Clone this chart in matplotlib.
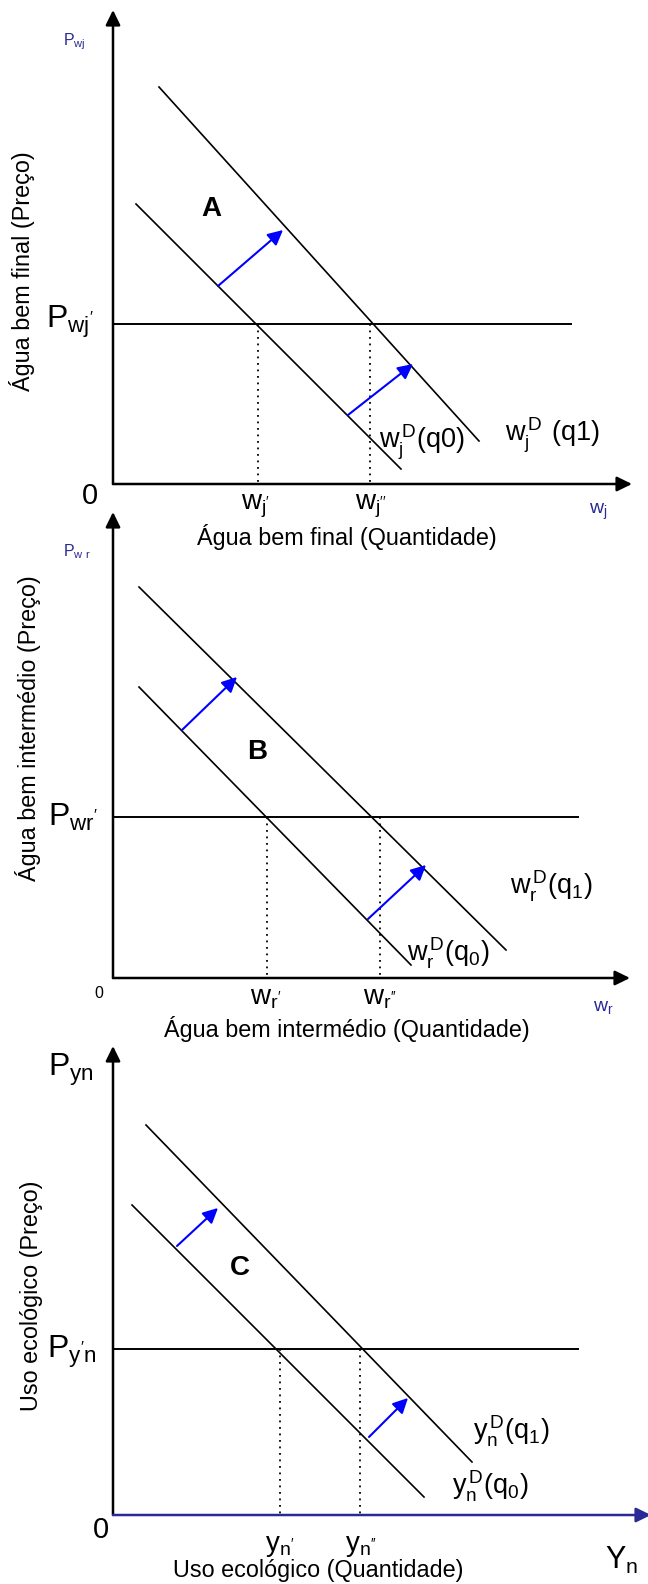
import matplotlib
matplotlib.use("Agg")
import matplotlib.pyplot as plt

plt.rcParams["font.family"] = ["Liberation Sans", "DejaVu Sans"]
plt.rcParams["mathtext.default"] = "regular"

NAVY = "#2a2a96"
BLUE = "#0000ff"

# painéis A, B, C: origem (px) e, relativos à origem, (quantidade, preço)
origens = [(113, 484), (113, 978), (113, 1515)]
topo_eixo_y = [474, 466, 469]
fim_eixo_x = [519, 517, 538]

# curvas de procura: (q_ini, p_ini, q_fim, p_fim)
procura_q1 = [(46, 397, 366, 43), (26, 391, 393, 28), (33, 390, 359, 53)]
procura_q0 = [(23, 280, 288, 15), (26, 291, 298, 13), (19, 310, 311, 18)]

# nível de preço e comprimento da recta horizontal
preco = [160, 161, 166]
preco_comp = [458, 465, 465]

# quantidades de equilíbrio (linhas pontilhadas)
quant_1 = [145, 154, 167]
quant_2 = [257, 267, 247]

# deslocações da procura (setas azuis)
seta_1 = [(105, 198, 170, 254), (69, 248, 124, 301), (64, 269, 105, 307)]
seta_2 = [(235, 69, 300, 120), (255, 59, 313, 113), (256, 78, 295, 117)]

fig = plt.figure(figsize=(6.48, 15.84), dpi=100)
ax = fig.add_axes([0, 0, 1, 1])
ax.set_xlim(0, 648)
ax.set_ylim(1584, 0)
ax.axis("off")


def pt(i, q, p):
    ox, oy = origens[i]
    return ox + q, oy - p


for i in range(3):
    ox, oy = origens[i]
    cor_x = NAVY if i == 2 else "black"
    ax.annotate("", xy=pt(i, 0, topo_eixo_y[i]), xytext=(ox, oy),
                arrowprops=dict(arrowstyle="-|>,head_length=0.45,head_width=0.22",
                                color="black", lw=1.8, mutation_scale=20,
                                shrinkA=0, shrinkB=0))
    ax.annotate("", xy=pt(i, fim_eixo_x[i], 0), xytext=(ox, oy),
                arrowprops=dict(arrowstyle="-|>,head_length=0.45,head_width=0.22",
                                color=cor_x, lw=1.8, mutation_scale=20,
                                shrinkA=0, shrinkB=0),
                annotation_clip=False)

    for q_a, p_a, q_b, p_b in (procura_q1[i], procura_q0[i]):
        x0, y0 = pt(i, q_a, p_a)
        x1, y1 = pt(i, q_b, p_b)
        ax.plot([x0, x1], [y0, y1], color="black", lw=1.2)

    x0, y0 = pt(i, 0, preco[i])
    x1, _ = pt(i, preco_comp[i], preco[i])
    ax.plot([x0, x1], [y0, y0], color="black", lw=1.4)

    for q in (quant_1[i], quant_2[i]):
        xq, yq = pt(i, q, preco[i])
        ax.plot([xq, xq], [yq, oy], color="black", lw=1.3,
                linestyle=(0, (1, 2.6)))

    for q_a, p_a, q_b, p_b in (seta_1[i], seta_2[i]):
        ax.annotate("", xy=pt(i, q_b, p_b), xytext=pt(i, q_a, p_a),
                    arrowprops=dict(arrowstyle="-|>,head_length=0.6,head_width=0.3",
                                    color=BLUE, lw=1.5, mutation_scale=15,
                                    shrinkA=0, shrinkB=0))

ROT = 16.8   # rótulos dos eixos
CURVA = 19.5  # rótulos das curvas
SIMB = 20    # símbolos grandes

# --- Painel A ---
ax.text(63, 42, r"$P_{wj}$", color=NAVY, fontsize=11.5, va="center", ha="left")
ax.text(211, 209, "A", fontsize=20, fontweight="bold", ha="center", va="center")
ax.text(46, 322, r"$P_{wj'}$", fontsize=23, va="center", ha="left")
ax.text(90, 496, "0", fontsize=21, ha="center", va="center")
ax.text(256, 506, r"$w_{j'}$", fontsize=SIMB, ha="center", va="center")
ax.text(371, 506, r"$w_{j''}$", fontsize=SIMB, ha="center", va="center")
ax.text(598, 512, r"$w_j$", color=NAVY, fontsize=14, ha="center", va="center")
ax.text(347, 537, "Água bem final (Quantidade)", fontsize=ROT, ha="center", va="center")
ax.text(22, 271, "Água bem final (Preço)", fontsize=ROT, rotation=90,
        ha="center", va="center")
ax.text(379, 442, r"$w_j^{\,D}(q0)$", fontsize=CURVA, ha="left", va="center")
ax.text(505, 435, r"$w_j^{\,D}\ (q1)$", fontsize=CURVA, ha="left", va="center")

# --- Painel B ---
ax.text(63, 552, r"$P_{w\ r}$", color=NAVY, fontsize=11.5, va="center", ha="left")
ax.text(257, 752, "B", fontsize=20, fontweight="bold", ha="center", va="center")
ax.text(48, 817, r"$P_{wr'}$", fontsize=23, va="center", ha="left")
ax.text(99, 994, "0", fontsize=11.5, ha="center", va="center")
ax.text(266, 998, r"$w_{r'}$", fontsize=SIMB, ha="center", va="center")
ax.text(380, 998, r"$w_{r''}$", fontsize=SIMB, ha="center", va="center")
ax.text(603, 1008, r"$w_r$", color=NAVY, fontsize=14, ha="center", va="center")
ax.text(347, 1029, "Água bem intermédio (Quantidade)", fontsize=ROT,
        ha="center", va="center")
ax.text(28, 728, "Água bem intermédio (Preço)", fontsize=ROT, rotation=90,
        ha="center", va="center")
ax.text(510, 886, r"$w_r^{\,D}(q_1)$", fontsize=CURVA, ha="left", va="center")
ax.text(407, 953, r"$w_r^{\,D}(q_0)$", fontsize=CURVA, ha="left", va="center")

# --- Painel C ---
ax.text(48, 1070, r"$P_{yn}$", fontsize=23, va="center", ha="left")
ax.text(240, 1268, "C", fontsize=20, fontweight="bold", ha="center", va="center")
ax.text(47, 1352, r"$P_{y'n}$", fontsize=23, va="center", ha="left")
ax.text(101, 1530, "0", fontsize=21, ha="center", va="center")
ax.text(280, 1546, r"$y_{n'}$", fontsize=SIMB, ha="center", va="center")
ax.text(361, 1546, r"$y_{n''}$", fontsize=SIMB, ha="center", va="center")
ax.text(622, 1560, r"$Y_n$", fontsize=22, ha="center", va="center")
ax.text(318, 1570, "Uso ecológico (Quantidade)", fontsize=ROT, ha="center", va="center")
ax.text(32, 1296, "Uso ecológico (Preço)", fontsize=ROT, rotation=90,
        ha="center", va="center")
ax.text(473, 1431, r"$y_n^{\,D}(q_1)$", fontsize=CURVA, ha="left", va="center")
ax.text(452, 1486, r"$y_n^{\,D}(q_0)$", fontsize=CURVA, ha="left", va="center")

fig.savefig("out.png", dpi=100)
